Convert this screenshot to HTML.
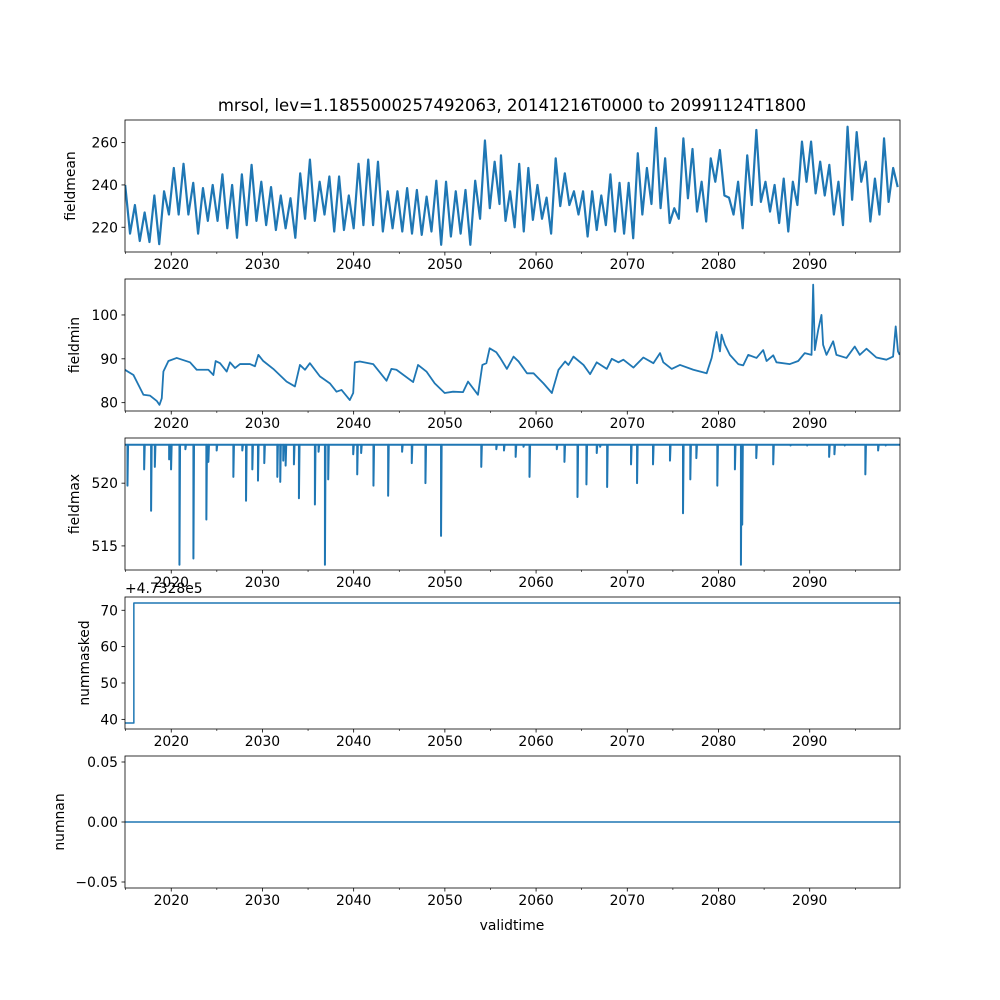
<!DOCTYPE html>
<html><head><meta charset="utf-8"><style>
html,body{margin:0;padding:0;background:#fff}
svg{display:block;font-family:"DejaVu Sans","Liberation Sans",sans-serif}
</style></head><body>
<svg id="fig" width="1000" height="1000" viewBox="0 0 1000 1000">
<rect width="1000" height="1000" fill="#fff"/>
<text x="512" y="111" font-size="16.5" text-anchor="middle">mrsol, lev=1.1855000257492063, 20141216T0000 to 20991124T1800</text>
<text x="512" y="930" font-size="13.9" text-anchor="middle">validtime</text>
<g id="plots"></g>
</svg>
<script>
// ---- data ----
const meanStartA = 2014.95, meanStepA = 0.533;
const meanA = [240,217,230.5,213.5,227,213,235,212,237,226,248,226,250,226,241,217,238.5,223,240,223,245,219.5,240,215,245,221,249.5,223,241.5,221,239,218.7,235,219.5,233.7,215,245.5,224,252,223,241.5,226,244,218,244,218.7,235,219.5,250,221,252,221,251,218,237,219.5,237,218,238.5,217,237.6,216.4,234.5,218,242,211.7,241.5,215.6,237,217,237.6,211.7,242,224,261,229,251,231];
const meanStartB = 2056.15, meanStepB = 0.5;
const meanB = [254,223,237,220,250,218,248,223.5,240,224,234,217,252.6,230,245.5,230.5,237,226,237,215.6,237,218.7,235,221,245,218,241,217,241,214.8,255,226,248,231,267,229,252.6,222,229,224,262,233.7,257,227.4,241.5,222.7,252.6,241.5,256.5,235,234,226,241.5,219.5,254,230.5,266,232,241.5,227.4,240,222,243,218,241.5,230.5,260.5,241.5,260.5,236,251,235,249.5,226,241.5,221,267.5,233,265,241.5,251,222.7,243,226,262,232,248,239];
const minYears = [2014.93,2015.86,2016.95,2017.68,2018.41,2018.71,2018.96,2019.14,2019.69,2020.6,2022.06,2022.79,2024.07,2024.62,2024.87,2025.35,2026.08,2026.44,2026.99,2027.54,2028.63,2029.18,2029.55,2030.09,2031.19,2032.65,2033.56,2034.11,2034.66,2035.2,2036.3,2037.39,2038.12,2038.67,2039.58,2039.95,2040.13,2040.68,2042.14,2043.6,2044.14,2044.69,2046.52,2047.06,2047.98,2048.89,2049.98,2050.9,2051.99,2052.54,2053.63,2054.11,2054.55,2054.91,2055.64,2056.07,2056.8,2057.53,2058.08,2059.0,2059.72,2060.81,2061.73,2062.46,2063.19,2063.55,2064.1,2065.2,2065.92,2066.65,2067.75,2068.3,2069.03,2069.57,2070.67,2071.76,2072.86,2073.59,2073.95,2074.87,2075.78,2077.24,2077.97,2078.7,2079.25,2079.79,2080.16,2080.34,2080.7,2081.25,2082.16,2082.71,2083.26,2084.17,2084.9,2085.27,2086.0,2086.36,2087.82,2088.74,2089.46,2090.2,2090.38,2090.56,2090.93,2091.29,2091.47,2091.84,2092.57,2092.93,2094.03,2094.94,2095.49,2096.22,2097.31,2098.41,2099.14,2099.43,2099.68,2099.86];
const minValues = [87.5,86.3,81.8,81.6,80.4,79.5,81,87.1,89.5,90.2,89.2,87.5,87.5,86.3,89.5,89,87.1,89.2,87.9,88.8,88.8,88.3,90.9,89.5,87.7,84.8,83.7,88.6,87.5,89,86,84.4,82.5,82.9,80.6,82.2,89.2,89.4,88.8,85,87.7,87.5,84.7,88.6,87.1,84.4,82.2,82.5,82.4,84.8,81.8,88.6,89,92.4,91.5,90.2,87.7,90.5,89.4,86.7,86.7,84.4,82.2,87.5,89.4,88.6,90.5,88.6,86.5,89.2,87.7,90,89.2,89.8,88,90.3,89,91.3,89.2,87.7,88.6,87.5,87.1,86.7,90.2,96.1,91.7,95.5,93.2,90.9,88.8,88.5,90.9,90.2,92,89.5,90.8,89.2,88.8,89.5,91.3,90.9,106.9,92,96.6,100,93.2,90.9,94,90.9,90.2,92.8,90.9,92.3,90.3,89.8,90.5,97.4,91.7,90.9];
const maxBaseline = 523.06;
const maxSpikeYears = [2015.2,2017.03,2017.79,2018.2,2019.77,2019.98,2020.9,2021.55,2022.43,2023.85,2024.07,2024.98,2026.81,2027.79,2028.2,2028.89,2029.51,2030.2,2031.63,2031.95,2032.28,2032.54,2033.45,2034.0,2035.75,2036.15,2036.85,2037.21,2039.95,2040.39,2040.82,2042.17,2043.78,2045.31,2046.37,2047.87,2049.58,2053.99,2055.64,2056.48,2057.76,2058.62,2059.28,2062.27,2063.11,2064.54,2065.52,2066.65,2067.02,2067.79,2070.41,2071.07,2072.82,2074.68,2076.11,2076.91,2077.57,2079.87,2081.8,2082.46,2082.6,2084.14,2086.0,2087.9,2089.72,2092.13,2092.71,2093.84,2096.1,2097.5,2098.33];
const maxSpikeValues = [519.8,521.1,517.8,521.3,521.9,521.1,513.5,522.7,514,517.1,521.7,522.6,520.5,522.6,518.6,521.1,520.2,521.6,520.5,520.1,521.8,521.4,521.5,518.8,518.3,522.5,513.5,520.3,522.3,520.7,522.4,519.8,519,522.5,521.6,520,515.8,521.3,522.7,522.6,522.1,522.9,520.5,522.7,521.7,518.9,519.9,522.4,522.9,519.7,521.5,520,521.5,521.8,517.6,520.3,522,519.8,521.1,513.5,516.7,522,521.5,523.0,523.0,522.1,522.3,523.0,520.7,522.6,523.0];
const maskedYears = [2014.93,2015.9,2015.9,2099.9];
const maskedValues = [39,39,72,72];
const nanYears = [2014.93,2099.9];
const nanValues = [0,0];
const xMajorTicks = [2020,2030,2040,2050,2060,2070,2080,2090];
const xMinorTicks = [2015,2025,2035,2045,2055,2065,2075,2085,2095];

// ---- layout ----
const X0=125,X1=900,T0=2014.93,T1=2099.9;
const xs = t => X0 + (t-T0)/(T1-T0)*(X1-X0);
const NS='http://www.w3.org/2000/svg';
const root=document.getElementById('plots');
function mk(tag,attrs,parent){const e=document.createElementNS(NS,tag);for(const k in attrs)e.setAttribute(k,attrs[k]);(parent||root).appendChild(e);return e;}

const panels=[
 {name:'fieldmean',top:120,lo:208.3,hi:270.7,yt:[220,240,260],lab:v=>String(v),lx:75,sw:2.2},
 {name:'fieldmin',top:279,lo:78.1,hi:108.2,yt:[80,90,100],lab:v=>String(v),lx:79,sw:1.8},
 {name:'fieldmax',top:438,lo:513.08,hi:523.6,yt:[515,520],lab:v=>String(v),lx:79,sw:2},
 {name:'nummasked',top:597,lo:37.35,hi:73.65,yt:[40,50,60,70],lab:v=>String(v),lx:89,sw:1.5},
 {name:'numnan',top:756,lo:-0.055,hi:0.055,yt:[-0.05,0,0.05],lab:v=>(v<0?'\u2212':'')+Math.abs(v).toFixed(2),lx:64,sw:1.5}
];
const H=132;
panels.forEach(p=>{p.ys=v=>p.top+H-(v-p.lo)/(p.hi-p.lo)*H;});

function linePath(p,ts,vs){let d='';for(let i=0;i<ts.length;i++){d+=(i?'L':'M')+xs(ts[i]).toFixed(2)+','+p.ys(vs[i]).toFixed(2);}return d;}

panels.forEach((p,pi)=>{
 const g=mk('g',{});
 
 
 const clipId='clip'+pi;
 const cp=mk('clipPath',{id:clipId},g);mk('rect',{x:X0,y:p.top,width:X1-X0,height:H},cp);
 let d='';
 if(pi===0){
   const ts=[],vs=[];
   meanA.forEach((v,i)=>{ts.push(meanStartA+i*meanStepA);vs.push(v);});
   meanB.forEach((v,i)=>{ts.push(meanStartB+i*meanStepB);vs.push(v);});
   d=linePath(p,ts,vs);
 } else if(pi===1){ d=linePath(p,minYears,minValues); }
 else if(pi===2){
   d='M'+xs(T0)+','+p.ys(maxBaseline);
   maxSpikeYears.forEach((t,i)=>{const x=xs(t).toFixed(2);d+='L'+x+','+p.ys(maxBaseline).toFixed(2)+'L'+x+','+p.ys(maxSpikeValues[i]).toFixed(2)+'L'+(xs(t)+0.6).toFixed(2)+','+p.ys(maxBaseline).toFixed(2);});
   d+='L'+xs(T1)+','+p.ys(maxBaseline);
 } else if(pi===3){ d=linePath(p,maskedYears,maskedValues); }
 else { d=linePath(p,nanYears,nanValues); }
 const ln=mk('path',{d:d,fill:'none',stroke:'#1f77b4','stroke-width':p.sw,'stroke-linejoin':'round','clip-path':'url(#'+clipId+')'},g);
 
 
 const fr=mk('rect',{x:X0,y:p.top,width:X1-X0,height:H,fill:'none',stroke:'#000','stroke-width':0.8},g);
 
 
 const yb=p.top+H;
 xMajorTicks.forEach(t=>{
   const x=xs(t);
   mk('line',{x1:x,x2:x,y1:yb,y2:yb+3.5,stroke:'#000','stroke-width':0.8},g);
   const tl=mk('text',{x:x,y:yb+17,'font-size':13.9,'text-anchor':'middle'},g);
   tl.textContent=String(t);
   
   
 });
 xMinorTicks.forEach(t=>{const x=xs(t);mk('line',{x1:x,x2:x,y1:yb,y2:yb+2,stroke:'#000','stroke-width':0.6},g);});
 p.yt.forEach(v=>{
   const y=p.ys(v);
   mk('line',{x1:X0-3.5,x2:X0,y1:y,y2:y,stroke:'#000','stroke-width':0.8},g);
   const tl=mk('text',{x:X0-7,y:y+5,'font-size':13.9,'text-anchor':'end'},g);
   tl.textContent=p.lab(v);
   
   
 });
 const cy=p.top+H/2;
 const yl=mk('text',{x:p.lx,y:cy,'font-size':13.9,'text-anchor':'middle',transform:'rotate(-90 '+p.lx+' '+cy+')'},g);
 yl.textContent=p.name;
 
 
});
const off=mk('text',{x:125,y:593,'font-size':13.9,'text-anchor':'start'});
off.textContent='+4.7328e5';


</script>
</body></html>
